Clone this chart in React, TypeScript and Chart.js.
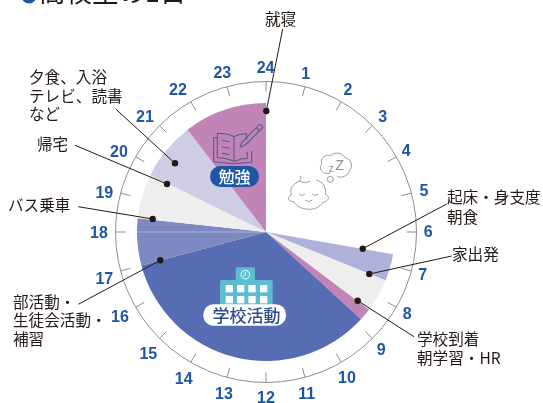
import React, { useEffect, useRef } from "react";
import { Chart, registerables } from "chart.js";

Chart.register(...registerables);

const activities = [
  "就寝",
  "起床・身支度 朝食",
  "家出発",
  "学校到着 朝学習・HR",
  "学校活動",
  "部活動・生徒会活動・補習",
  "部活動・生徒会活動・補習",
  "バス乗車",
  "帰宅",
  "夕食、入浴 テレビ、読書 など",
  "勉強",
];
const hours = [6.66, 0.81, 1.0, 0.37, 8.16, 1.0, 0.41, 1.34, 1.75, 2.5];
const sliceLabels = [
  activities[0], activities[1], activities[2], activities[3], activities[4],
  activities[5], activities[6], activities[7], activities[9], activities[10],
];
const sliceColors = [
  "#ffffff", "#aeb2da", "#eeeeee", "#c084b6", "#566cb3",
  "#7e88c1", "#7e88c1", "#eeeeee", "#cfcde6", "#c084b6",
];
const hourLabels = [
  "24", "1", "2", "3", "4", "5", "6", "7", "8", "9", "10", "11",
  "12", "13", "14", "15", "16", "17", "18", "19", "20", "21", "22", "23",
];

const hourLabelPlaces: [number, number][] = [
  [265.6, 68], [305.7, 74], [348, 89.7], [382.7, 116.7], [406.3, 151.3], [424, 191],
  [428.3, 232.3], [422.7, 275.3], [407.3, 314.3], [381.3, 350.3], [347, 378.3], [306.7, 393.7],
  [266, 398], [224, 393.7], [183.7, 379.3], [148.3, 353.7], [120, 317.3], [104.3, 279],
  [99, 233.3], [104.3, 192.7], [119, 152.3], [145, 117.3], [178, 90.3], [222.3, 73.3],
];

const JP = '"Noto Sans CJK JP", "Noto Sans", sans-serif';
const INK = "#231815";
const BLUE = "#1f55a5";

const captions: [string, number, number][] = [
  ["就寝", 265, 19],
  ["夕食、入浴", 29, 77],
  ["テレビ、読書", 29, 96],
  ["など", 29, 114],
  ["帰宅", 37, 144],
  ["バス乗車", 8, 205],
  ["部活動・", 13, 302],
  ["生徒会活動・", 13, 320],
  ["補習", 13, 339],
  ["起床・身支度", 447, 197],
  ["朝食", 447, 217],
  ["家出発", 452, 254],
  ["学校到着", 417, 339],
  ["朝学習・HR", 417, 358],
];
const leaders: [number, number, number, number][] = [
  [282.7, 29, 266.3, 111],
  [115.7, 109, 175, 163.3],
  [75, 145.3, 167, 184],
  [78.3, 206.7, 152.7, 219],
  [78.3, 304.3, 160.3, 260.3],
  [446.7, 204, 362.7, 248.7],
  [451.7, 256, 369.3, 274],
  [414, 336.7, 357.7, 300.7],
];

function roundRect(c: CanvasRenderingContext2D, x: number, y: number, w: number, h: number, r: number) {
  c.beginPath();
  c.roundRect(x, y, w, h, r);
}

function drawBook(c: CanvasRenderingContext2D) {
  c.save();
  c.translate(200, 115);
  c.scale(1 / 3, 1 / 3);
  c.strokeStyle = "#4f5a92";
  c.lineWidth = 3.2;
  c.lineJoin = "round";
  c.beginPath();
  c.moveTo(52, 68);
  c.lineTo(41, 68);
  c.lineTo(41, 140);
  c.lineTo(100, 146);
  c.lineTo(155, 142);
  c.lineTo(155, 108);
  c.stroke();
  c.beginPath();
  c.moveTo(52, 55);
  c.quadraticCurveTo(82, 55, 102, 65);
  c.quadraticCurveTo(118, 56, 140, 56);
  c.lineTo(140, 74);
  c.moveTo(52, 55);
  c.lineTo(52, 128);
  c.quadraticCurveTo(82, 128, 102, 140);
  c.quadraticCurveTo(122, 130, 142, 130);
  c.lineTo(142, 110);
  c.moveTo(102, 65);
  c.lineTo(102, 140);
  c.moveTo(66, 76);
  c.lineTo(88, 80);
  c.moveTo(66, 96);
  c.lineTo(88, 100);
  c.moveTo(66, 115);
  c.lineTo(88, 119);
  c.stroke();
  c.beginPath();
  c.moveTo(120, 97);
  c.lineTo(126, 82);
  c.lineTo(176, 30);
  c.quadraticCurveTo(186, 26, 188, 38);
  c.lineTo(136, 90);
  c.closePath();
  c.moveTo(168, 38);
  c.lineTo(180, 48);
  c.stroke();
  c.restore();

  c.fillStyle = BLUE;
  roundRect(c, 210, 166, 49, 21, 10.5);
  c.fill();
  c.fillStyle = "#ffffff";
  c.font = `500 16px ${JP}`;
  c.textAlign = "center";
  c.textBaseline = "middle";
  c.fillText("勉強", 234.5, 176.5);
}

function drawSleeper(c: CanvasRenderingContext2D) {
  c.save();
  c.translate(280, 145);
  c.scale(1 / 3, 1 / 3);
  c.strokeStyle = "#8f8f8f";
  c.lineWidth = 2.6;
  c.lineCap = "round";
  c.beginPath();
  c.moveTo(58, 108);
  c.bezierCurveTo(38, 118, 28, 130, 34, 150);
  c.bezierCurveTo(20, 155, 24, 172, 42, 170);
  c.bezierCurveTo(52, 196, 112, 204, 128, 172);
  c.bezierCurveTo(148, 170, 150, 152, 136, 148);
  c.bezierCurveTo(140, 128, 128, 108, 110, 106);
  c.moveTo(58, 108);
  c.bezierCurveTo(64, 102, 64, 98, 60, 93);
  c.moveTo(58, 108);
  c.quadraticCurveTo(74, 118, 90, 108);
  c.moveTo(58, 148);
  c.quadraticCurveTo(66, 156, 74, 148);
  c.moveTo(98, 148);
  c.quadraticCurveTo(106, 156, 114, 148);
  c.moveTo(76, 166);
  c.quadraticCurveTo(86, 174, 96, 166);
  c.stroke();
  c.beginPath();
  c.moveTo(150, 85);
  c.bezierCurveTo(125, 90, 115, 70, 125, 58);
  c.bezierCurveTo(118, 40, 140, 26, 152, 32);
  c.bezierCurveTo(165, 18, 190, 25, 195, 38);
  c.bezierCurveTo(215, 42, 220, 65, 208, 78);
  c.bezierCurveTo(205, 92, 185, 100, 172, 95);
  c.moveTo(160, 103);
  c.arc(151, 103, 9, 0, Math.PI * 2);
  c.stroke();
  c.fillStyle = "#8f8f8f";
  c.font = "30px Liberation Sans";
  c.textAlign = "center";
  c.textBaseline = "middle";
  c.fillText("z", 154, 72);
  c.font = "42px Liberation Sans";
  c.fillText("Z", 179, 64);
  c.restore();
}

function drawSchool(c: CanvasRenderingContext2D) {
  c.save();
  c.translate(195, 260);
  c.scale(1 / 3, 1 / 3);
  c.fillStyle = "#5bbdcf";
  roundRect(c, 122, 22, 58, 50, 5);
  c.fill();
  roundRect(c, 75, 60, 158, 90, 5);
  c.fill();
  c.strokeStyle = "#ffffff";
  c.lineWidth = 3;
  c.beginPath();
  c.arc(151, 44, 13, 0, Math.PI * 2);
  c.moveTo(151, 37);
  c.lineTo(151, 45);
  c.lineTo(145, 49);
  c.stroke();
  c.fillStyle = "#ffffff";
  for (const x of [92, 126, 160, 195]) {
    for (const y of [75, 108]) c.fillRect(x, y, 22, 22);
  }
  roundRect(c, 25, 133, 248, 64, 30);
  c.fill();
  c.restore();
  c.fillStyle = "#2c4c90";
  c.font = `500 17px ${JP}`;
  c.textAlign = "center";
  c.textBaseline = "middle";
  c.fillText("学校活動", 246.5, 316);
}

const clockFace = {
  id: "clockFace",
  afterDraw(chart: any) {
    const c: CanvasRenderingContext2D = chart.ctx;
    const meta = chart.getDatasetMeta(0);
    const first = meta.data[0];
    const { x: cx, y: cy } = first;
    const ringR = 150.5;
    c.save();

    // seam at 18 o'clock between the two club-activity slices
    const seam = meta.data[5].endAngle;
    c.strokeStyle = "rgba(255,255,255,0.45)";
    c.lineWidth = 0.8;
    c.beginPath();
    c.moveTo(cx, cy);
    c.lineTo(cx + first.outerRadius * Math.cos(seam), cy + first.outerRadius * Math.sin(seam));
    c.stroke();

    // clock ring, ticks, hour labels
    c.strokeStyle = "#8e8e8e";
    c.lineWidth = 1;
    c.beginPath();
    c.arc(cx, cy, ringR, 0, Math.PI * 2);
    c.stroke();
    c.font = "bold 16px Liberation Sans";
    c.textAlign = "center";
    c.textBaseline = "middle";
    hourLabels.forEach((label, i) => {
      const a = -Math.PI / 2 + (i / hourLabels.length) * Math.PI * 2;
      const ca = Math.cos(a);
      const sa = Math.sin(a);
      c.beginPath();
      c.moveTo(cx + ringR * ca, cy + ringR * sa);
      c.lineTo(cx + (ringR - 10) * ca, cy + (ringR - 10) * sa);
      c.stroke();
      c.fillStyle = BLUE;
      const [lx, ly] = hourLabelPlaces[i];
      c.fillText(label, lx, ly + 0.5);
    });

    drawBook(c);
    drawSleeper(c);
    drawSchool(c);

    // leader lines and dots
    c.strokeStyle = INK;
    c.fillStyle = INK;
    c.lineWidth = 1;
    for (const [x1, y1, x2, y2] of leaders) {
      c.beginPath();
      c.moveTo(x1, y1);
      c.lineTo(x2, y2);
      c.stroke();
      c.beginPath();
      c.arc(x2, y2, 3.2, 0, Math.PI * 2);
      c.fill();
    }

    // captions
    c.font = `15.6px ${JP}`;
    c.textAlign = "left";
    c.textBaseline = "middle";
    c.fillStyle = INK;
    for (const [text, x, y] of captions) c.fillText(text, x, y);

    // title, cut off by the top of the picture
    c.fillStyle = BLUE;
    c.beginPath();
    c.arc(29, -4, 7.5, 0, Math.PI * 2);
    c.fill();
    c.fillStyle = INK;
    c.font = `400 26.5px ${JP}`;
    c.textBaseline = "alphabetic";
    c.fillText("高校生の1日", 39, 2);
    c.restore();
  },
};

export default function App() {
  const ref = useRef<HTMLCanvasElement>(null);
  useEffect(() => {
    const chart = new Chart(ref.current!, {
      type: "pie",
      data: {
        labels: sliceLabels,
        datasets: [{ data: hours, backgroundColor: sliceColors, borderWidth: 0 }],
      },
      options: {
        responsive: false,
        animation: false,
        layout: { padding: { left: 137, right: 148, top: 103, bottom: 42 } },
        plugins: { legend: { display: false }, tooltip: { enabled: false } },
      },
      plugins: [clockFace],
    } as any);
    return () => chart.destroy();
  }, []);
  return (
    <div style={{ position: "absolute", left: 0, top: 0, width: 543, height: 403, overflow: "hidden", background: "#fff" }}>
      <canvas ref={ref} width={543} height={403} style={{ display: "block" }} />
    </div>
  );
}
